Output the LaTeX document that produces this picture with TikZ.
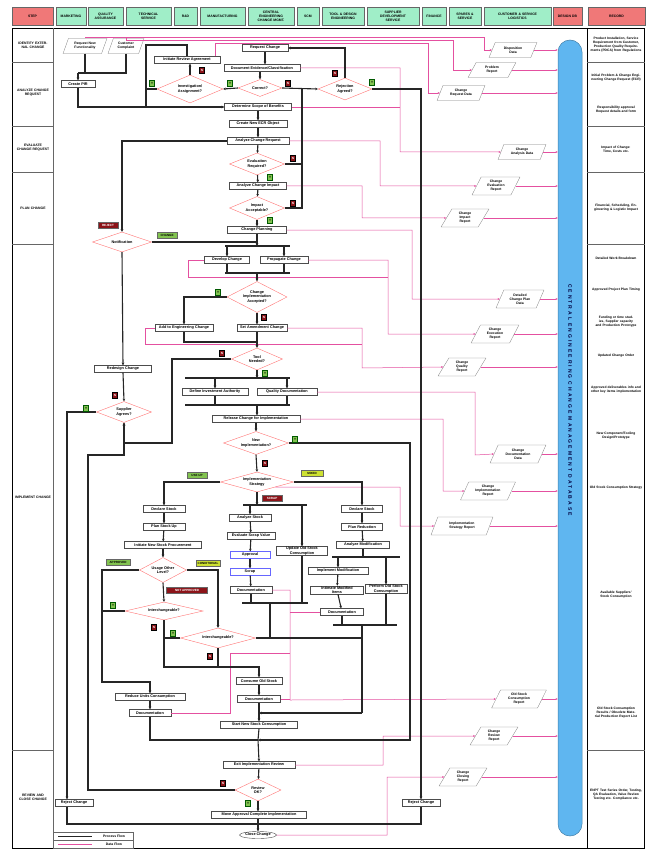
\documentclass[tikz,border=0pt]{standalone}
\usepackage{fontspec}
\setmainfont{Liberation Sans}
\usetikzlibrary{shapes.geometric,arrows.meta,positioning}

\definecolor{hdrred}{RGB}{240,120,120}
\definecolor{hdrgreen}{RGB}{160,238,200}
\definecolor{flowpink}{RGB}{228,80,160}
\definecolor{dbblue}{RGB}{95,182,240}
\definecolor{yesgreen}{RGB}{130,195,80}
\definecolor{nored}{RGB}{140,20,25}
\definecolor{lblyellow}{RGB}{205,225,50}

\newcommand\bxfont{\fontsize{3.8}{4.3}\selectfont\bfseries}
\newcommand\smfont{\fontsize{3.4}{3.9}\selectfont\bfseries}

\tikzset{
  proc/.style={font=\bxfont, align=center, draw=black!70, fill=white, line width=0.4pt,
    inner xsep=1.2pt, inner ysep=0.6pt, minimum height=7pt},
  dec/.style={font=\bxfont, align=center, diamond, aspect=2.5, draw=red!55, fill=white,
    line width=0.4pt, inner sep=0pt},
  data/.style={font=\smfont, align=center, trapezium, trapezium left angle=65,
    trapezium right angle=115, trapezium stretches=true, draw=black!50, fill=white,
    line width=0.3pt, inner sep=0.4pt, minimum height=15pt, minimum width=48pt},
  pflow/.style={draw=black!85, line width=1.1pt, -{Stealth[length=2.6pt,width=2.6pt]}},
  pline/.style={draw=black!85, line width=1.1pt},
  dflow/.style={draw=flowpink, line width=0.5pt, -{Stealth[length=2.2pt,width=2pt]}},
  dline/.style={draw=flowpink, line width=0.5pt},
  forkbar/.style={draw=black!85, line width=1.5pt},
  yesmk/.style={draw=green!35!black, fill=yesgreen, line width=0.3pt, minimum width=5pt,
    minimum height=6pt, inner sep=0pt, font=\fontsize{3}{3}\selectfont\bfseries},
  nomk/.style={draw=black, fill=nored, text=white, line width=0.3pt, minimum width=5pt,
    minimum height=6pt, inner sep=0pt, font=\fontsize{3}{3}\selectfont\bfseries},
  lbl/.style={draw=black!60, line width=0.3pt, minimum width=20pt, minimum height=6pt,
    inner sep=0.5pt, font=\fontsize{3}{3}\selectfont\bfseries},
  hdr/.style={font=\smfont, align=center, inner sep=0pt},
  rec/.style={font=\fontsize{3.3}{3.9}\selectfont\bfseries, align=center, text width=54pt},
  steplbl/.style={font=\smfont, align=center, text width=36pt}
}

\begin{document}
\begin{tikzpicture}[x=1pt,y=-1pt]
\useasboundingbox (0,0) rectangle (645,850);

% header row
\foreach \xa/\xb/\t/\c [count=\i] in {12/53/STEP/hdrred, 56/86/MARKETING/hdrgreen,
    88/123/{QUALITY\\ASSURANCE}/hdrgreen, 126/171/{TECHNICAL\\SERVICE}/hdrgreen,
    174/197/{R\&D}/hdrgreen, 200/245/MANUFACTURING/hdrgreen,
    248/294/{CENTRAL\\ENGINEERING\\CHANGE MGMT.}/hdrgreen, 297/319/SCM/hdrgreen,
    322/364/{TOOL \& DESIGN\\ENGINEERING}/hdrgreen, 367/419/{SUPPLIER\\DEVELOPMENT\\SERVICE}/hdrgreen,
    422/446/FINANCE/hdrgreen, 449/481/{SPARES \&\\SERVICE}/hdrgreen,
    484/551/{CUSTOMER \& SERVICE\\LOGISTICS}/hdrgreen, 553/582/{DESIGN DB}/hdrred,
    588/645/RECORD/hdrred}{
  \pgfmathsetmacro{\cellw}{\xb-\xa-2}
  \draw[draw=black!60, line width=0.4pt, fill=\c] (\xa,7) rectangle (\xb,25);
  \node[hdr, text width=\cellw pt] (hd\i) at ({(\xa+\xb)/2},16) {\t};
}

% frame and side columns
\draw[line width=0.8pt] (12,28) rectangle (644.6,848);
\draw[black!60] (53,28) -- (53,848);
\draw[line width=0.6pt] (587,28) -- (587,848);
\foreach \yy in {62,126,172,244,750}{
  \draw[black!60] (12,\yy) -- (53,\yy);
  \draw[black!60] (587,\yy) -- (644.6,\yy);
}
\foreach \yy/\t [count=\i] in {45/{IDENTIFY EXTERNAL CHANGE}, 93/{ANALYZE CHANGE REQUEST},
    148/{EVALUATE CHANGE REQUEST}, 208/{PLAN CHANGE}, 497/{IMPLEMENT CHANGE},
    797/{REVIEW AND CLOSE CHANGE}}
  \node[steplbl] (st\i) at (33,\yy) {\t};
\foreach \yy/\t [count=\i] in {
    45/{Product Installation, Service Requirement from Customer, Production Quality Requirements (PDCA) from Regulations},
    78/{Initial Problem \& Change Engineering Change Request (ECR)},
    110/{Responsibility approval Request details and form},
    150/{Impact of Change: Time, Costs etc.},
    208/{Financial, Scheduling, Engineering \& Logistic Impact},
    258/{Detailed Work Breakdown},
    290/{Approved Project Plan Timing},
    322/{Funding or time studies, Supplier capacity and Production Prototype},
    356/{Updated Change Order},
    390/{Approved deliverables info and other key items implementation},
    436/{New Component/Tooling Design/Prototype},
    488/{Old Stock Consumption Strategy},
    595/{Available Suppliers' Stock Consumption},
    713/{Old Stock Consumption Results / Obsolete Material Production Report List},
    795/{ENPT Test Series Order, Testing, QA Evaluation, Value Review Testing etc. Compliance etc.}}
  \node[rec] (rc\i) at (616,\yy) {\t};

% central database
\node[draw=dbblue!70!black, fill=dbblue, rounded corners=12pt, minimum width=24pt,
  minimum height=796pt, line width=0.5pt] (dbbar) at (570,438) {};
\node[rotate=-90, font=\fontsize{5}{5}\selectfont\bfseries\addfontfeature{LetterSpace=40},
  text=black!75!blue] (dbtxt) at (570,400) {CENTRAL ENGINEERING CHANGE MANAGEMENT DATABASE};

% identify and analyze
\node[data, minimum width=44pt] (p1) at (85,46) {Request New\\Functionality};
\node[data, minimum width=36pt] (p2) at (126,46) {Customer\\Complaint};
\node[proc, minimum width=34pt] (createpir) at (78,84) {Create PIR};
\node[proc, minimum width=46pt] (reqchg) at (265,48) {Request Change};
\node[proc, minimum width=66pt] (initrev) at (187,60) {Initiate Review Agreement};
\node[proc, minimum width=76pt] (docev) at (262,68) {Document Evidence/Classification};
\node[dec, minimum width=66pt, minimum height=28pt] (invest) at (190,89) {Investigation/\\Assignment?};
\node[dec, minimum width=44pt, minimum height=17pt] (correct) at (260,88) {Correct?};
\node[dec, minimum width=54pt, minimum height=22pt] (rejag) at (345,89) {Rejection\\Agreed?};
\node[proc, minimum width=67pt] (determine) at (258,107) {Determine Scope of Benefits};
\node[proc, minimum width=58pt] (createecr) at (258,124) {Create New ECR Object};
\node[proc, minimum width=62pt] (analyzecr) at (258,141) {Analyze Change Request};
\node[dec, minimum width=55pt, minimum height=22pt] (evalreq) at (257,164) {Evaluation\\Required?};
\node[proc, minimum width=57pt] (analyzeimp) at (258,186) {Analyze Change Impact};
\node[dec, minimum width=55pt, minimum height=23pt] (impacc) at (257,208) {Impact\\Acceptable?};
\node[proc, minimum width=59pt] (chplan) at (257,230) {Change Planning};

% plan
\node[dec, minimum width=59pt, minimum height=20pt] (notif) at (122,242) {Notification};
\node[proc, minimum width=45pt] (devch) at (227,260) {Develop Change};
\node[proc, minimum width=48pt] (propch) at (284,260) {Propagate Change};
\node[dec, minimum width=60pt, minimum height=31pt] (implacc) at (257,297) {Change\\Implementation\\Accepted?};
\node[proc, minimum width=58pt] (addeng) at (184,328) {Add to Engineering Change};
\node[proc, minimum width=50pt] (setamd) at (262,328) {Set Amendment Change};
\node[dec, minimum width=51pt, minimum height=22pt] (toolneed) at (257,359) {Tool\\Needed?};
\node[proc, minimum width=57pt] (redesign) at (123,369) {Redesign Change};
\node[dec, minimum width=55pt, minimum height=21pt] (suppagree) at (124,412) {Supplier\\Agrees?};
\node[proc, minimum width=66pt] (definv) at (215,392) {Define Investment Authority};
\node[proc, minimum width=60pt] (qualdoc) at (287,392) {Quality Documentation};
\node[proc, minimum width=88pt] (release) at (256,419) {Release Change for Implementation};
\node[dec, minimum width=65pt, minimum height=23pt] (newimpl) at (256,443) {New\\Implementation?};
\node[dec, minimum width=73pt, minimum height=20pt] (implstr) at (257,482) {Implementation\\Strategy};

% left branch
\node[proc, minimum width=42pt] (declL) at (164,509) {Declare Stock};
\node[proc, minimum width=42pt] (planL) at (164,527) {Plan Stock Up};
\node[proc, minimum width=77pt] (initnew) at (163,545) {Initiate New Stock Procurement};
\node[dec, minimum width=47pt, minimum height=25pt] (usage) at (163,570) {Usage Other\\Level?};
\node[dec, minimum width=78pt, minimum height=18pt] (inter1) at (164,611) {Interchangeable?};
\node[dec, minimum width=75pt, minimum height=20pt] (inter2) at (218,638) {Interchangeable?};
\node[proc, minimum width=70pt] (reduce) at (150,697) {Reduce Units Consumption};
\node[proc, minimum width=42pt] (docL) at (150,713) {Documentation};

% middle branch
\node[proc, minimum width=42pt] (anstock) at (250,518) {Analyze Stock};
\node[proc, minimum width=48pt] (evscrap) at (251,536) {Evaluate Scrap Value};
\node[proc, draw=blue!60, minimum width=40pt] (approve) at (250,555) {Approval};
\node[proc, draw=blue!60, minimum width=40pt] (scrapit) at (250,572) {Scrap};
\node[proc, minimum width=42pt] (docM) at (251,590) {Documentation};
\node[proc, minimum width=51pt] (updold) at (302,551) {Update Old Stock\\Consumption};

% right branch
\node[proc, minimum width=41pt] (declR) at (362,509) {Declare Stock};
\node[proc, minimum width=41pt] (planR) at (362,527) {Plan Reduction};
\node[proc, minimum width=53pt] (anmod) at (363,545) {Analyze Modification};
\node[proc, minimum width=60pt] (implmod) at (338,571) {Implement Modification};
\node[proc, minimum width=53pt] (intimate) at (337,590) {Intimate Modified\\Items};
\node[proc, minimum width=42pt] (perfold) at (386,589) {Perform Old Stock\\Consumption};
\node[proc, minimum width=43pt] (docR) at (342,612) {Documentation};

% review and close
\node[proc, minimum width=46pt] (consume) at (259,681) {Consume Old Stock};
\node[proc, minimum width=43pt] (docC) at (259,699) {Documentation};
\node[proc, minimum width=77pt] (startnew) at (259,725) {Start New Stock Consumption};
\node[proc, minimum width=72pt] (exitrev) at (259,765) {Exit Implementation Review};
\node[dec, minimum width=46pt, minimum height=22pt] (reviewok) at (258,790) {Review\\OK?};
\node[proc, minimum width=95pt] (moveappr) at (259,815) {Move Approval Complete Implementation};
\node[proc, ellipse, inner sep=0.3pt, minimum width=37pt, minimum height=7pt] (closech) at (258,835) {Close Change};
\node[proc, minimum width=38pt] (rejectR) at (421,803) {Reject Change};
\node[proc, minimum width=38pt] (rejectL) at (74,803) {Reject Change};

% data objects
\node[data] (d1) at (513,50) {Disposition\\Data};
\node[data] (d2) at (492,70) {Problem\\Report};
\node[data] (d3) at (461,93) {Change\\Request Data};
\node[data] (d4) at (522,152) {Change\\Analysis Data};
\node[data, minimum height=18pt] (d5) at (496,186) {Change\\Evaluation\\Report};
\node[data, minimum height=18pt] (d6) at (465,218) {Change\\Impact\\Report};
\node[data, minimum height=18pt] (d7) at (520,299) {Detailed\\Change Plan\\Data};
\node[data, minimum height=18pt] (d8) at (495,334) {Change\\Execution\\Report};
\node[data, minimum height=18pt] (d9) at (462,367) {Change\\Quality\\Report};
\node[data, minimum height=18pt, minimum width=56pt] (d10) at (518,454) {Change\\Documentation\\Data};
\node[data, minimum height=18pt, minimum width=55pt] (d11) at (488,491) {Change\\Implementation\\Report};
\node[data, minimum height=18pt, minimum width=62pt] (d12) at (462,526) {Implementation\\Strategy Report};
\node[data, minimum height=18pt, minimum width=55pt] (d13) at (519,699) {Old Stock\\Consumption\\Report};
\node[data, minimum height=18pt] (d14) at (494,736) {Change\\Review\\Report};
\node[data, minimum height=18pt] (d15) at (463,777) {Change\\Closing\\Report};

% junctions
\coordinate (jtop) at (78,73);
\coordinate (lpA) at (146,45);
\coordinate (lpB) at (146,107);
\coordinate (jno) at (302,88);
\coordinate (jbot) at (258,824);
\coordinate (f1) at (257,246);
\coordinate (j1) at (257,273);
\coordinate (j2) at (257,342);
\coordinate (tnA) at (172,443);
\coordinate (lx) at (67,700);
\coordinate (f2) at (257,378);
\coordinate (j3) at (257,405);
\coordinate (bigR) at (410,740);
\coordinate (jrev) at (258,740);
\coordinate (lx2) at (102,682);
\coordinate (jcs) at (259,667);
\coordinate (jmid) at (270,638);
\coordinate (f3) at (257,505);
\coordinate (j4) at (270,603);
\coordinate (jmR) at (362,638);
\coordinate (f5) at (363,557);
\coordinate (j5) at (362,625);
\coordinate (jlow) at (362,713);
\coordinate (jcen) at (259,713);
\coordinate (lx3) at (88,455);

% data flow
\draw[dflow] (p1.north) |- (484,37) |- (d1.west);
\draw[dflow] (p2.north) |- (453,40) |- (d2.west);
\draw[dflow] ([xshift=-5pt]initrev.north east) |- (428,43) |- (d3.west);
\draw[dflow] (docev.east) -| (400,152) -- (d4.west);
\draw[dline] (determine.east) -- (400,107);
\draw[dflow] (analyzecr.east) -| (380,186) -- (d5.west);
\draw[dflow] (analyzeimp.east) -| (362,218) -- (d6.west);
\draw[dflow] (chplan.east) -| (412,299) -- (d7.west);
\draw[dflow] (propch.east) -| (388,334) -- (d8.west);
\draw[dline] (devch.west) -| (188,277) -- (388,277);
\draw[dline] (addeng.west) -| (145,344) -- (362,344);
\draw[dflow] (setamd.east) -| (362,368) -- (d9.west);
\draw[dflow] (qualdoc.east) -| (475,455) -- (d10.west);
\draw[dflow] (release.east) -| (443,491) -- (d11.west);
\draw[dflow] (implstr.south east) -| (400,526) -- (d12.west);
\draw[dflow] (docM.east) -| (290,700) -- (d13.west);
\draw[dline] (docC.east) -- (290,699);
\draw[dline] (docR.west) -- (290,612);
\draw[dline] (docL.east) -| (230,653) -- (290,653);
\draw[dflow] (exitrev.east) -| (383,736) -- (d14.west);
\draw[dflow] (closech.east) -| (387,777) -- (d15.west);
\foreach \d in {d1,d2,d3,d4,d5,d6,d7,d8,d9,d10,d11,d12,d13,d14,d15}
  \draw[dflow] (\d.east) -- (\d.east -| dbbar.west);

% process flow: identify and analyze
\draw[pline] (p1.south) |- (jtop);
\draw[pline] (p2.south) |- (jtop);
\draw[pflow] (jtop) -- (createpir.north);
\draw[pflow] (createpir.south) |- (determine.west);
\draw[pflow] (reqchg.south) -- (reqchg.south |- docev.north);
\draw[pflow] (docev.south -| correct) -- (correct.north);
\draw[pflow] (correct.west) -- (invest.east);
\draw[pflow] (invest.north) -- (invest.north |- initrev.south);
\draw[pline] (initrev.north) |- (lpA) -- (lpB);
\draw[pline] (invest.west) -- (invest.west -| lpA);
\draw[pflow] (correct.east) -- (rejag.west);
\draw[pline] (evalreq.east) -| (jno);
\draw[pline] (impacc.east) -| (jno);
\draw[pflow] (rejag.north) |- (reqchg.east);
\draw[pflow] (rejag.east) -| (rejectR.north);
\draw[pline] (rejectR.south) |- (jbot);
\draw[pflow] (determine) -- (createecr);
\draw[pflow] (createecr) -- (analyzecr);
\draw[pflow] (analyzecr) -- (evalreq);
\draw[pflow] (evalreq) -- (analyzeimp);
\draw[pflow] (analyzeimp) -- (impacc);
\draw[pflow] (impacc) -- (chplan);

% process flow: plan
\draw[pflow] (analyzecr.west) -| (notif.north);
\draw[pflow] (chplan.south) -- (f1);
\draw[pline] (notif.east) -- (notif.east -| f1);
\draw[forkbar] (225,246) -- (290,246);
\draw[pflow] (devch.north |- f1) -- (devch.north);
\draw[pflow] (propch.north |- f1) -- (propch.north);
\draw[forkbar] (225,273) -- (290,273);
\draw[pline] (devch.south) -- (devch.south |- j1);
\draw[pline] (propch.south) -- (propch.south |- j1);
\draw[pflow] (j1) -- (implacc.north);
\draw[pflow] (implacc.west) -| (addeng.north);
\draw[pflow] (implacc.south) -- (implacc.south |- setamd.north);
\draw[pline] (addeng.south) |- (j2);
\draw[pline] (setamd.south -| j2) -- (j2);
\draw[pflow] (j2) -- (toolneed.north);
\draw[pflow] (toolneed.west) -| (tnA) -| (suppagree.south);
\draw[pflow] (notif.south) -- (redesign.north);
\draw[pflow] (redesign.south) -- (suppagree.north);
\draw[pflow] (suppagree.west) -| (rejectL.north -| lx);
\draw[pline] (rejectL.south -| lx) |- (jbot);
\draw[pflow] (toolneed.south) -- (f2);
\draw[forkbar] (185,378) -- (290,378);
\draw[pflow] (definv.north |- f2) -- (definv.north);
\draw[pflow] (qualdoc.north |- f2) -- (qualdoc.north);
\draw[forkbar] (185,405) -- (290,405);
\draw[pline] (definv.south) -- (definv.south |- j3);
\draw[pline] (qualdoc.south) -- (qualdoc.south |- j3);
\draw[pflow] (j3) -- (release.north -| j3);
\draw[pflow] (release.south) -- (newimpl.north);

% process flow: implement
\draw[pflow] (newimpl.east) -| (bigR) -- (jrev);
\draw[pflow] (newimpl.south) -- (implstr.north);
\draw[pflow] (implstr.west) -| (declL.north);
\draw[pflow] (declL) -- (planL);
\draw[pflow] (planL) -- (initnew);
\draw[pflow] (initnew) -- (usage);
\draw[pflow] (usage.west) -| (lx2) -| (reduce.north);
\draw[pflow] (usage.east) -| (inter2.north);
\draw[pflow] (usage.south) -- (inter1.north);
\draw[pline] (inter1.west) -- (inter1.west -| lx2);
\draw[pflow] (inter1.south) |- (jcs) -- (consume.north);
\draw[pline] (inter2.west) -- (inter2.west -| inter1.south);
\draw[pline] (inter2.south) -- (inter2.south |- jcs);
\draw[pline] (inter2.east) -- (jmid);
\draw[pflow] (reduce) -- (docL);
\draw[pline] (docL.south) |- (jrev);
\draw[pflow] (implstr.south) -- (f3);
\draw[forkbar] (243,505) -- (307,505);
\draw[pflow] (anstock.north |- f3) -- (anstock.north);
\draw[pflow] (updold.north |- f3) -- (updold.north);
\draw[pflow] (anstock) -- (evscrap);
\draw[pflow] (evscrap) -- (approve);
\draw[pflow] (approve) -- (scrapit);
\draw[pflow] (scrapit) -- (docM);
\draw[forkbar] (242,603) -- (308,603);
\draw[pline] (docM.south) -- (docM.south |- j4);
\draw[pline] (updold.south) -- (updold.south |- j4);
\draw[pline] (j4) -- (jmid) -- (jmR);
\draw[pflow] (implstr.east) -| (declR.north);
\draw[pflow] (declR) -- (planR);
\draw[pflow] (planR) -- (anmod);
\draw[pline] (anmod.south) -- (f5);
\draw[forkbar] (332,557) -- (400,557);
\draw[pflow] (implmod.north |- f5) -- (implmod.north);
\draw[pflow] (perfold.north |- f5) -- (perfold.north);
\draw[pflow] (implmod) -- (intimate);
\draw[pflow] (intimate) -- (docR);
\draw[forkbar] (333,625) -- (397,625);
\draw[pline] (docR.south) -- (docR.south |- j5);
\draw[pline] (perfold.south) -- (perfold.south |- j5);
\draw[pline] (j5) -- (jmR) -- (jlow);
\draw[pflow] (jlow) -- (jcen);

% process flow: review and close
\draw[pflow] (consume) -- (docC);
\draw[pline] (docC.south) -- (jcen);
\draw[pflow] (jcen) -- (startnew.north);
\draw[pline] (startnew.south) -- (jrev);
\draw[pflow] (jrev) -- (exitrev.north);
\draw[pflow] (exitrev) -- (reviewok);
\draw[pflow] (reviewok) -- (moveappr.north -| reviewok);
\draw[pline] (moveappr.south -| jbot) -- (jbot);
\draw[pflow] (jbot) -- (closech.north);
\draw[pflow] (reviewok.west) -| (lx3) -| (suppagree.south);

% decision markers
\node[nomk] (mk1) at (202,70) {N};
\node[yesmk] (mk2) at (152,83) {Y};
\node[yesmk] (mk3) at (230,83) {Y};
\node[nomk] (mk4) at (288,83) {N};
\node[nomk] (mk5) at (335,73) {N};
\node[yesmk] (mk6) at (372,82) {Y};
\node[nomk] (mk7) at (293,158) {N};
\node[yesmk] (mk8) at (270,177) {Y};
\node[nomk] (mk9) at (293,203) {N};
\node[yesmk] (mk10) at (270,220) {Y};
\node[yesmk] (mk11) at (218,292) {Y};
\node[nomk] (mk12) at (264,317) {N};
\node[nomk] (mk13) at (222,353) {N};
\node[yesmk] (mk14) at (265,373) {Y};
\node[nomk] (mk15) at (115,395) {N};
\node[yesmk] (mk16) at (86,408) {Y};
\node[yesmk] (mk17) at (295,439) {Y};
\node[nomk] (mk18) at (265,463) {N};
\node[yesmk] (mk19) at (113,605) {Y};
\node[nomk] (mk20) at (154,627) {N};
\node[yesmk] (mk21) at (173,633) {Y};
\node[nomk] (mk22) at (210,656) {N};
\node[nomk] (mk23) at (223,783) {N};
\node[yesmk] (mk24) at (248,803) {Y};
\node[lbl, fill=nored, text=white] (lb1) at (108,225) {REJECT};
\node[lbl, fill=yesgreen] (lb2) at (167,235) {CHANGE};
\node[lbl, fill=yesgreen] (lb3) at (197,475) {USE UP};
\node[lbl, fill=lblyellow, minimum width=22pt] (lb4) at (312,473) {MIXED};
\node[lbl, fill=nored, text=white] (lb5) at (272,498) {SCRAP};
\node[lbl, fill=yesgreen, minimum width=24pt] (lb6) at (118,562) {APPROVED};
\node[lbl, fill=lblyellow, minimum width=24pt] (lb7) at (208,563) {CONDITIONAL};
\node[lbl, fill=nored, text=white, minimum width=41pt] (lb8) at (187,590) {NOT APPROVED};

% legend
\draw[black!60, line width=0.4pt, fill=white] (53,832) rectangle (133,848);
\draw[black!60, line width=0.4pt] (53,840) -- (133,840);
\draw[pline, line width=0.8pt] (58,836) -- (92,836);
\node[font=\smfont] (lg1) at (114,836) {Process Flow};
\draw[dline] (58,844) -- (92,844);
\node[font=\smfont] (lg2) at (114,844) {Data Flow};
\end{tikzpicture}
\end{document}
